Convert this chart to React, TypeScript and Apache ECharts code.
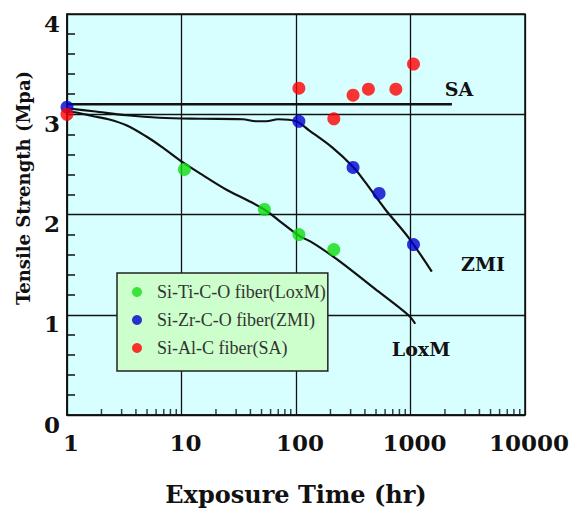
import React, { useEffect, useRef } from "react";
import * as echarts from "echarts";

// Scatter data: [exposure time (hr), tensile strength (MPa)]
const loxmPoints = [[10.6, 2.45], [53, 2.05], [106, 1.8], [214, 1.65]];
const zmiPoints = [[1, 3.07], [106, 2.93], [315, 2.47], [532, 2.21], [1062, 1.7]];
const saPoints = [[1, 3.0], [106, 3.26], [214, 2.955], [315, 3.19], [429, 3.25], [745, 3.25], [1062, 3.5]];

// Trend curves drawn in the figure
const loxmCurve = [[1, 3.03], [1.3, 3.01], [1.7, 2.98], [2.3, 2.95], [3.3, 2.89], [4.9, 2.78], [7, 2.66], [10.3, 2.52], [15, 2.4], [24.5, 2.25], [38, 2.14], [54.5, 2.04], [71, 1.94], [106, 1.79], [139, 1.72], [200, 1.6], [270, 1.49], [527, 1.23], [961, 0.995], [1100, 0.91]];
const zmiCurve = [[1, 3.06], [1.7, 3.03], [3.3, 2.99], [6.4, 2.965], [15, 2.955], [34, 2.95], [45, 2.93], [55, 2.93], [70, 2.95], [100, 2.93], [130, 2.84], [207, 2.67], [319, 2.47], [404, 2.32], [603, 2.05], [961, 1.77], [1535, 1.43]];
const saCurve = [[1, 3.1], [2300, 3.1]];

// Log-axis minor tick positions (2..9 in each decade)
const xMinorTicks = [2, 3, 4, 5, 6, 7, 8, 9, 20, 30, 40, 50, 60, 70, 80, 90, 200, 300, 400, 500, 600, 700, 800, 900, 2000, 3000, 4000, 5000, 6000, 7000, 8000, 9000];

const seriesNames = ["Si-Ti-C-O fiber(LoxM)", "Si-Zr-C-O fiber(ZMI)", "Si-Al-C fiber(SA)"];
const curveLabels = ["SA", "ZMI", "LoxM"];

const SERIF = "DejaVu Serif";
const LEGEND_SERIF = "Liberation Serif";

export default function App() {
  const ref = useRef<HTMLDivElement>(null);
  useEffect(() => {
    if (!ref.current) return;
    const chart = echarts.init(ref.current, undefined, { renderer: "svg" });
    const lineStyle = { color: "#111", width: 2.2 };
    const labelText = (text: string, x: number, y: number) => ({
      type: "text",
      x,
      y,
      style: {
        text,
        font: `bold 19px "${SERIF}"`,
        fill: "#111",
        align: "center",
        verticalAlign: "middle",
        textAlign: "center",
        textVerticalAlign: "middle",
      },
    });
    chart.setOption({
      animation: false,
      backgroundColor: "#ffffff",
      textStyle: { fontFamily: SERIF },
      grid: {
        left: 67,
        right: 45,
        top: 14,
        bottom: 94,
        show: true,
        backgroundColor: "#d8ffff",
        borderColor: "#111",
        borderWidth: 1.5,
      },
      legend: {
        data: seriesNames,
        orient: "vertical",
        left: 117,
        top: 273,
        backgroundColor: "#ccffcc",
        borderColor: "#222",
        borderWidth: 1.5,
        borderRadius: 0,
        padding: [10, 2, 14, 15],
        itemWidth: 10,
        itemHeight: 10,
        itemGap: 10,
        icon: "circle",
        selectedMode: false,
        textStyle: {
          fontFamily: LEGEND_SERIF,
          fontSize: 18,
          lineHeight: 18,
          color: "#333",
          padding: [0, 0, 0, 10],
        },
      },
      xAxis: {
        type: "log",
        logBase: 10,
        min: 1,
        max: 10000,
        axisLine: { show: true, lineStyle: { color: "#111", width: 1.5 } },
        axisTick: { show: false },
        splitLine: { show: true, lineStyle: { color: "#111", width: 1.3 } },
        axisLabel: {
          fontFamily: SERIF,
          fontWeight: "bold",
          fontSize: 23,
          color: "#111",
          margin: 16,
          padding: [0, 0, 0, 8],
          showMinLabel: true,
          showMaxLabel: true,
          formatter: (v: number) => String(Math.round(v)),
        },
        name: "Exposure Time (hr)",
        nameLocation: "middle",
        nameGap: 67,
        nameTextStyle: {
          fontFamily: SERIF,
          fontWeight: "bold",
          fontSize: 24,
          color: "#111",
        },
      },
      yAxis: {
        type: "value",
        min: 0,
        max: 4,
        interval: 1,
        axisLine: { show: true, lineStyle: { color: "#111", width: 1.5 } },
        axisTick: { show: false, inside: true, length: 8 },
        minorTick: { show: true, splitNumber: 5, length: 8, lineStyle: { color: "#111", width: 1.5 } },
        splitLine: { show: true, lineStyle: { color: "#111", width: 1.3 } },
        axisLabel: {
          fontFamily: SERIF,
          fontWeight: "bold",
          fontSize: 23,
          color: "#111",
          margin: 7,
          verticalAlign: "top",
          lineHeight: 18,
        },
      },
      graphic: [
        {
          type: "text",
          x: 23,
          y: 188,
          rotation: Math.PI / 2,
          style: {
            text: "Tensile Strength (Mpa)",
            font: `bold 18px "${SERIF}"`,
            fill: "#111",
            align: "center",
            verticalAlign: "middle",
            textAlign: "center",
            textVerticalAlign: "middle",
          },
        },
        labelText(curveLabels[0], 459, 89),
        labelText(curveLabels[1], 483, 264),
        labelText(curveLabels[2], 421, 349),
      ],
      series: [
        {
          name: "minorTicks",
          type: "scatter",
          data: xMinorTicks.map((v) => [v, 0]),
          symbol: "rect",
          symbolSize: [1.5, 6],
          symbolOffset: [0, -3],
          itemStyle: { color: "#111" },
          silent: true,
          z: 3,
        },
        {
          name: "SA line",
          type: "line",
          data: saCurve,
          symbol: "none",
          lineStyle: { color: "#111", width: 2.6 },
          z: 2,
        },
        {
          name: "ZMI line",
          type: "line",
          data: zmiCurve,
          smooth: 0.35,
          symbol: "none",
          lineStyle,
          z: 2,
        },
        {
          name: "LoxM line",
          type: "line",
          data: loxmCurve,
          smooth: 0.35,
          symbol: "none",
          lineStyle,
          z: 2,
        },
        {
          name: seriesNames[0],
          type: "scatter",
          data: loxmPoints,
          symbolSize: 13,
          itemStyle: { color: "#11dd11" },
          z: 4,
        },
        {
          name: seriesNames[1],
          type: "scatter",
          data: zmiPoints,
          symbolSize: 13,
          itemStyle: { color: "#0000cc" },
          z: 4,
        },
        {
          name: seriesNames[2],
          type: "scatter",
          data: saPoints,
          symbolSize: 13,
          itemStyle: { color: "#ff0000" },
          z: 5,
        },
      ],
    });
    return () => chart.dispose();
  }, []);
  return (
    <div
      ref={ref}
      style={{ position: "fixed", left: 0, top: 0, width: 572, height: 511 }}
    />
  );
}
